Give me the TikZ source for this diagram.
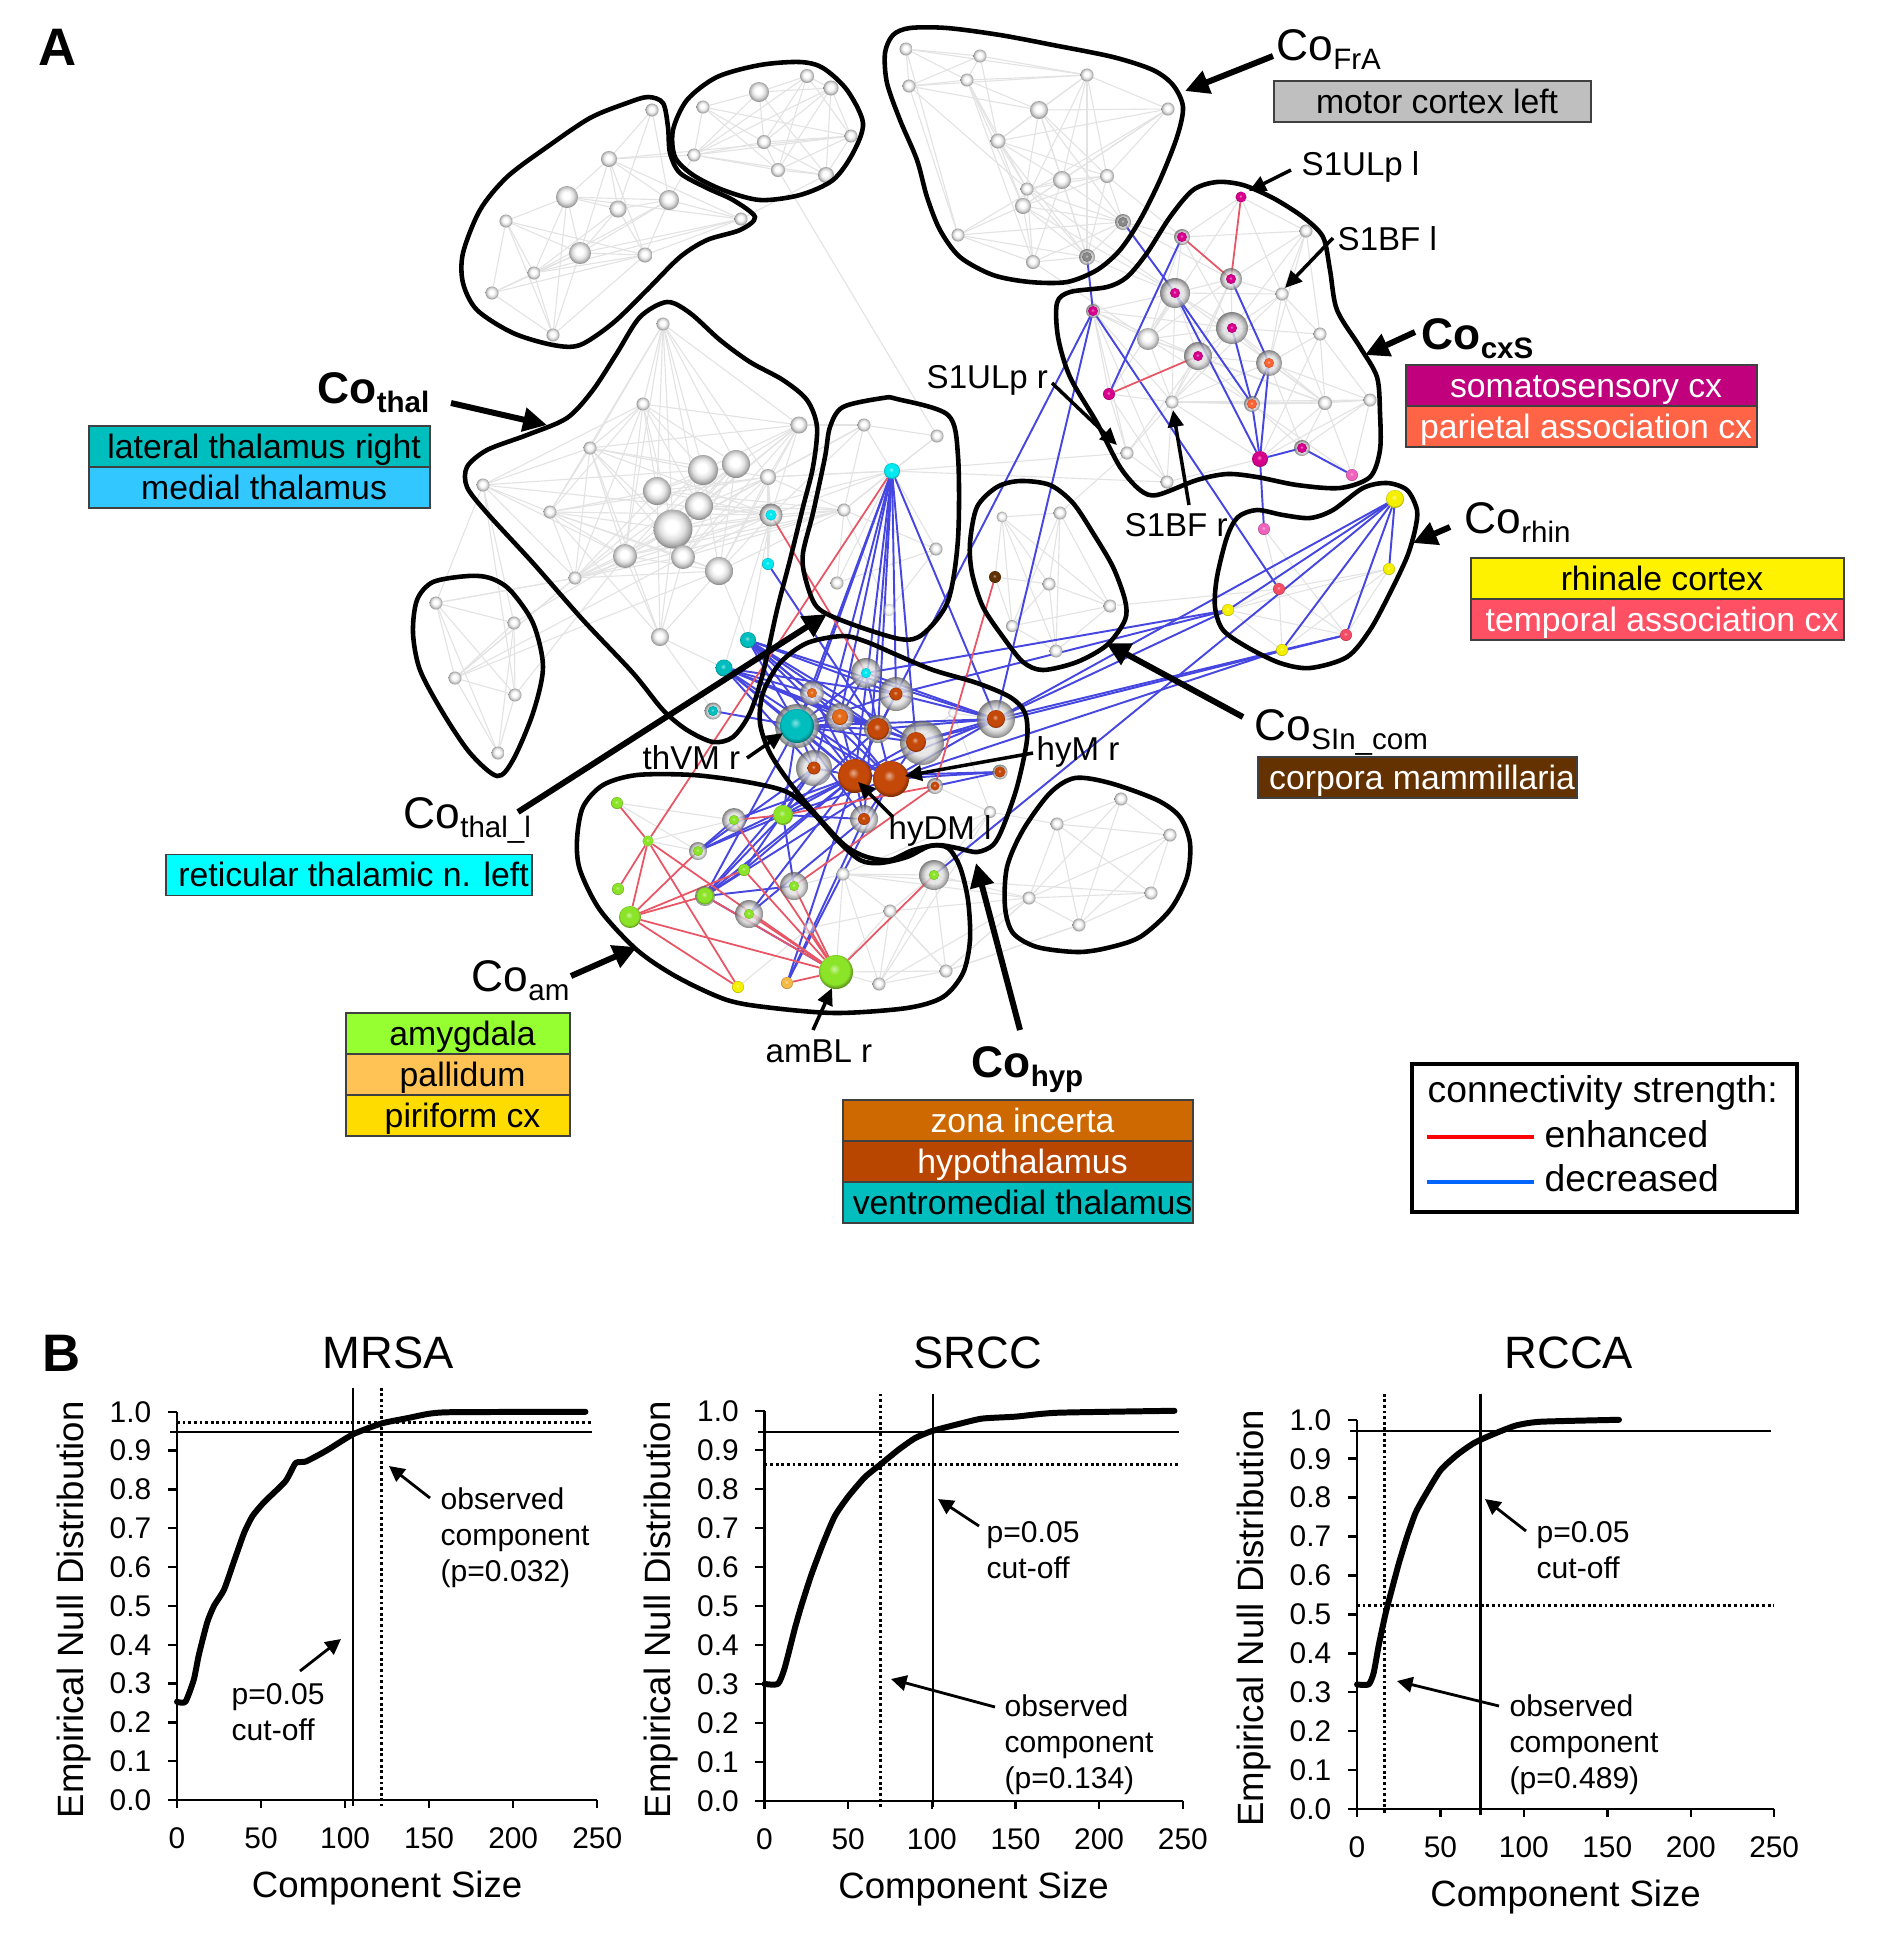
\documentclass[tikz,border=0pt]{standalone}
\usepackage{fontspec}
\setmainfont{Liberation Sans}
\usetikzlibrary{positioning, arrows.meta}
\pgfdeclarelayer{bg}
\pgfsetlayers{bg,main}
\definecolor{tealc}{RGB}{0,190,190}
\definecolor{cyanc}{RGB}{0,232,240}
\definecolor{hypc}{RGB}{196,72,8}
\definecolor{zonac}{RGB}{226,106,24}
\definecolor{magc}{RGB}{214,0,140}
\definecolor{parc}{RGB}{250,98,50}
\definecolor{amc}{RGB}{140,228,40}
\definecolor{yelc}{RGB}{245,240,0}
\definecolor{palc}{RGB}{245,185,70}
\definecolor{pinkc}{RGB}{240,100,190}
\definecolor{redc}{RGB}{245,75,100}
\definecolor{brownc}{RGB}{95,50,5}
\definecolor{slatec}{RGB}{135,135,135}
\definecolor{decc}{RGB}{70,70,225}
\definecolor{enhc}{RGB}{232,85,100}
\definecolor{legdecc}{RGB}{0,100,255}
\definecolor{reticc}{RGB}{0,255,255}
\newcommand{\beadshade}[2]{\pgfdeclareradialshading{#1}{\pgfpoint{-3bp}{5bp}}{color(0bp)=(#2!45!white); color(8bp)=(#2); color(21bp)=(#2); color(26bp)=(#2!65!black); color(50bp)=(#2!65!black)}}
\beadshade{tealshade}{tealc}
\beadshade{cyanshade}{cyanc}
\beadshade{hypshade}{hypc}
\beadshade{zonashade}{zonac}
\beadshade{magshade}{magc}
\beadshade{parshade}{parc}
\beadshade{amshade}{amc}
\beadshade{yelshade}{yelc}
\beadshade{palshade}{palc}
\beadshade{pinkshade}{pinkc}
\beadshade{redshade}{redc}
\beadshade{brownshade}{brownc}
\beadshade{slateshade}{slatec}
\pgfdeclareradialshading{greyshade}{\pgfpoint{-2bp}{4bp}}{color(0bp)=(white); color(8bp)=(white); color(16bp)=(black!12); color(22bp)=(black!30); color(27bp)=(black!50); color(50bp)=(black!50)}
\pgfdeclareradialshading{haloshade}{\pgfpoint{0bp}{0bp}}{color(0bp)=(black!10); color(14bp)=(black!12); color(20bp)=(black!35); color(25bp)=(black!62); color(50bp)=(black!62)}
\newcommand{\cosub}[1]{\raisebox{-2.8pt}{\fontsize{8.4}{10}\selectfont #1}}
\begin{document}
\begin{tikzpicture}[x=0.01cm, y=-0.01cm,
	sized/.style={circle, inner sep=0pt, outer sep=0pt, shade, minimum size=#1*0.1mm},
	bead/.style={sized=#1, shading=greyshade}, halo/.style={sized=#1, shading=haloshade, opacity=0.8},
	tealb/.style={sized=#1, shading=tealshade}, cyanb/.style={sized=#1, shading=cyanshade},
	hypb/.style={sized=#1, shading=hypshade}, zonab/.style={sized=#1, shading=zonashade},
	magb/.style={sized=#1, shading=magshade}, parb/.style={sized=#1, shading=parshade},
	amb/.style={sized=#1, shading=amshade}, yelb/.style={sized=#1, shading=yelshade},
	palb/.style={sized=#1, shading=palshade}, pinkb/.style={sized=#1, shading=pinkshade},
	redb/.style={sized=#1, shading=redshade}, brownb/.style={sized=#1, shading=brownshade},
	slateb/.style={sized=#1, shading=slateshade},
	nrm/.style={draw=black!11, line width=0.32pt}, dec/.style={draw=decc, line width=0.55pt}, enh/.style={draw=enhc, line width=0.5pt},
	hull/.style={draw, line width=1.3pt},
	bigarr/.style={draw, line width=1.7pt, -{Triangle[length=6.8pt, width=6.6pt]}},
	smallarr/.style={draw, line width=1pt, -{Triangle[length=4.8pt, width=4.4pt]}},
	plotarr/.style={draw, line width=0.8pt, -{Triangle[length=4.4pt, width=4.4pt]}},
	colab/.style={anchor=base west, inner sep=0pt, font=\fontsize{12.6}{14}\selectfont},
	coboldlab/.style={colab, font=\fontsize{12.6}{14}\selectfont\bfseries},
	tag/.style={anchor=base west, inner sep=0pt, font=\fontsize{9.4}{11}\selectfont},
	lbox/.style={draw=black!75, line width=0.5pt, inner sep=0pt, outer sep=0pt, minimum height=41*0.1mm, text height=8pt, text depth=1.26pt, execute at begin node={\hspace*{2.6pt}}, font=\fontsize{9.6}{11}\selectfont},
	annot/.style={anchor=north west, align=left, inner sep=0pt, font=\fontsize{8.55}{10.2}\selectfont},
	tick/.style={inner sep=0pt, font=\fontsize{8.5}{10}\selectfont},
	axtitle/.style={inner sep=0pt, font=\fontsize{10.4}{12}\selectfont},
	legtext/.style={anchor=base west, inner sep=0pt, font=\fontsize{10.6}{12}\selectfont},
	panel/.style={inner sep=0pt, font=\fontsize{15}{17}\selectfont\bfseries},
	plottitle/.style={inner sep=0pt, font=\fontsize{12.9}{15}\selectfont},
	curve/.style={line width=1.7pt, line join=round, line cap=round},
	cut/.style={line width=0.7pt}, obs/.style={line width=0.8pt, dash pattern=on 0.8pt off 0.8pt}]
	\useasboundingbox (0,0) rectangle (1890,1944);

	% upper left
	\node [bead=13] (a1) at (652,110) {};
	\node [bead=16] (a2) at (609,159) {};
	\node [bead=22] (a3) at (567,197) {};
	\node [bead=17] (a4) at (618,209) {};
	\node [bead=20] (a5) at (669,200) {};
	\node [bead=13] (a6) at (506,221) {};
	\node [bead=13] (a7) at (741,219) {};
	\node [bead=22] (a8) at (580,253) {};
	\node [bead=15] (a9) at (645,255) {};
	\node [bead=13] (a10) at (534,273) {};
	\node [bead=13] (a11) at (492,293) {};
	\node [bead=13] (a12) at (553,335) {};
	\node [bead=13] (b1) at (703,107) {};
	\node [bead=20] (b2) at (759,92) {};
	\node [bead=14] (b3) at (807,76) {};
	\node [bead=15] (b4) at (831,88) {};
	\node [bead=13] (b5) at (851,136) {};
	\node [bead=14] (b6) at (764,142) {};
	\node [bead=13] (b7) at (694,155) {};
	\node [bead=14] (b8) at (778,170) {};
	\node [bead=16] (b9) at (826,175) {};

	% thalamus
	\node [bead=13] (c1) at (663,324) {};
	\node [bead=13] (c2) at (643,404) {};
	\node [bead=17] (c3) at (799,425) {};
	\node [bead=13] (c4) at (590,448) {};
	\node [bead=13] (c5) at (483,485) {};
	\node [bead=30] (c6) at (703,470) {};
	\node [bead=28] (c7) at (736,464) {};
	\node [bead=16] (c8) at (768,477) {};
	\node [bead=28] (c9) at (657,491) {};
	\node [bead=28] (c10) at (699,506) {};
	\node [bead=39] (c11) at (673,529) {};
	\node [bead=13] (c12) at (550,512) {};
	\node [halo=23] (c13o) at (771,515) {};
	\node [cyanb=11] (c13) at (c13o) {};
	\node [cyanb=12] (c14) at (768,564) {};
	\node [bead=24] (c15) at (625,556) {};
	\node [bead=24] (c16) at (683,557) {};
	\node [bead=28] (c17) at (719,571) {};
	\node [bead=13] (c18) at (575,578) {};
	\node [bead=18] (c19) at (660,637) {};
	\node [tealb=16] (th1) at (748,640) {};
	\node [tealb=17] (th2) at (724,668) {};
	\node [halo=17] (th3o) at (713,711) {};
	\node [tealb=10] (th3) at (th3o) {};
	\node [bead=13] (d1) at (436,603) {};
	\node [bead=13] (d2) at (514,623) {};
	\node [bead=13] (d3) at (455,678) {};
	\node [bead=13] (d4) at (515,695) {};
	\node [bead=13] (d5) at (498,753) {};
	\node [bead=13] (e1) at (864,425) {};
	\node [bead=13] (e2) at (937,436) {};
	\node [cyanb=16] (e3) at (892,471) {};
	\node [bead=13] (e4) at (844,510) {};
	\node [bead=13] (e5) at (936,549) {};
	\node [bead=13] (e6) at (837,583) {};
	\node [bead=12, opacity=0.5] (e7) at (889,610) {};

	% hypothalamus
	\node [halo=30] (h1o) at (866,673) {};
	\node [cyanb=10] (h1) at (h1o) {};
	\node [halo=34] (h2o) at (896,694) {};
	\node [hypb=13] (h2) at (h2o) {};
	\node [halo=24] (h3o) at (812,693) {};
	\node [zonab=10] (h3) at (h3o) {};
	\node [halo=44] (h4o) at (797,726) {};
	\node [tealb=34] (h4) at (h4o) {};
	\node [halo=28] (h5o) at (840,717) {};
	\node [zonab=16] (h5) at (h5o) {};
	\node [halo=28] (h6o) at (878,729) {};
	\node [hypb=22] (h6) at (h6o) {};
	\node [halo=44] (h7o) at (922,743) {};
	\node [hypb=20] (h7) at (916,742) {};
	\node [halo=38] (h8o) at (996,719) {};
	\node [hypb=18] (h8) at (h8o) {};
	\node [halo=36] (h9o) at (814,768) {};
	\node [hypb=13] (h9) at (h9o) {};
	\node [hypb=34] (h10) at (855,776) {};
	\node [hypb=36] (h11) at (891,779) {};
	\node [halo=15] (h12o) at (1000,772) {};
	\node [hypb=11] (h12) at (h12o) {};
	\node [halo=16] (h13o) at (935,786) {};
	\node [hypb=9] (h13) at (h13o) {};
	\node [halo=28] (h14o) at (864,819) {};
	\node [hypb=12] (h14) at (h14o) {};
	\node [bead=12] (h15) at (990,812) {};
	\node [bead=10, opacity=0.5] (h16) at (953,713) {};

	% amygdala
	\node [amb=12] (m1) at (617,803) {};
	\node [amb=11] (m2) at (648,841) {};
	\node [halo=24] (m3o) at (734,820) {};
	\node [amb=10] (m3) at (m3o) {};
	\node [amb=20] (m4) at (783,815) {};
	\node [halo=18] (m5o) at (698,851) {};
	\node [amb=10] (m5) at (m5o) {};
	\node [amb=12] (m6) at (744,870) {};
	\node [amb=12] (m7) at (618,889) {};
	\node [halo=20] (m8o) at (705,896) {};
	\node [amb=17] (m8) at (m8o) {};
	\node [halo=28] (m9o) at (794,886) {};
	\node [amb=10] (m9) at (m9o) {};
	\node [amb=22] (m10) at (630,917) {};
	\node [halo=28] (m11o) at (749,914) {};
	\node [amb=10] (m11) at (m11o) {};
	\node [halo=30] (m12o) at (934,875) {};
	\node [amb=10] (m12) at (m12o) {};
	\node [bead=13] (m13) at (843,874) {};
	\node [bead=13] (m14) at (890,911) {};
	\node [bead=12, opacity=0.5] (m15) at (809,928) {};
	\node [amb=34] (m16) at (836,972) {};
	\node [yelb=12] (m17) at (738,987) {};
	\node [palb=12] (m18) at (787,983) {};
	\node [bead=13] (m19) at (879,984) {};
	\node [bead=13] (m20) at (946,971) {};

	% septal, rhinal, lower right
	\node [bead=11] (s1) at (1002,517) {};
	\node [bead=13] (s2) at (1060,513) {};
	\node [brownb=12] (s3) at (995,577) {};
	\node [bead=13] (s4) at (1049,584) {};
	\node [bead=13] (s5) at (1110,606) {};
	\node [bead=12] (s6) at (1012,626) {};
	\node [bead=13] (s7) at (1056,651) {};
	\node [yelb=18] (r1) at (1395,499) {};
	\node [yelb=12] (r2) at (1389,569) {};
	\node [redb=12] (r3) at (1279,589) {};
	\node [yelb=12] (r4) at (1228,610) {};
	\node [redb=12] (r5) at (1346,635) {};
	\node [yelb=12] (r6) at (1282,650) {};
	\node [pinkb=12] (r7) at (1264,529) {};
	\node [bead=13] (t1) at (1121,799) {};
	\node [bead=13] (t2) at (1057,824) {};
	\node [bead=13] (t3) at (1170,835) {};
	\node [bead=13] (t4) at (1029,898) {};
	\node [bead=13] (t5) at (1151,893) {};
	\node [bead=13] (t6) at (1079,925) {};

	% frontal
	\node [bead=13] (f1) at (906,49) {};
	\node [bead=13] (f2) at (980,56) {};
	\node [bead=13] (f3) at (909,86) {};
	\node [bead=13] (f4) at (967,80) {};
	\node [bead=13] (f5) at (1087,75) {};
	\node [bead=13] (f6) at (1168,109) {};
	\node [bead=18] (f7) at (1039,110) {};
	\node [bead=15] (f8) at (998,141) {};
	\node [bead=18] (f9) at (1062,180) {};
	\node [bead=14] (f10) at (1107,176) {};
	\node [bead=13] (f11) at (1027,189) {};
	\node [bead=16] (f12) at (1023,206) {};
	\node [halo=16] (f13o) at (1123,222) {};
	\node [slateb=10] (f13) at (f13o) {};
	\node [bead=13] (f14) at (958,235) {};
	\node [bead=14] (f15) at (1033,262) {};
	\node [halo=16] (f16o) at (1087,257) {};
	\node [slateb=10] (f16) at (f16o) {};

	% somatosensory
	\node [magb=11] (x1) at (1241,197) {};
	\node [halo=16] (x2o) at (1182,237) {};
	\node [magb=10] (x2) at (x2o) {};
	\node [bead=13] (x3) at (1306,231) {};
	\node [halo=22] (x4o) at (1231,279) {};
	\node [magb=10] (x4) at (x4o) {};
	\node [halo=30] (x5o) at (1175,293) {};
	\node [magb=10] (x5) at (x5o) {};
	\node [bead=13] (x6) at (1282,294) {};
	\node [halo=14] (x7o) at (1093,311) {};
	\node [magb=10] (x7) at (x7o) {};
	\node [bead=22] (x8) at (1148,339) {};
	\node [halo=32] (x9o) at (1232,328) {};
	\node [magb=10] (x9) at (x9o) {};
	\node [bead=13] (x10) at (1320,334) {};
	\node [halo=28] (x11o) at (1198,356) {};
	\node [magb=10] (x11) at (x11o) {};
	\node [halo=26] (x12o) at (1269,363) {};
	\node [parb=10] (x12) at (x12o) {};
	\node [magb=12] (x13) at (1109,394) {};
	\node [bead=13] (x14) at (1172,402) {};
	\node [halo=16] (x15o) at (1252,404) {};
	\node [parb=10] (x15) at (x15o) {};
	\node [bead=14] (x16) at (1325,403) {};
	\node [bead=13] (x17) at (1370,400) {};
	\node [bead=13] (x18) at (1127,453) {};
	\node [magb=16] (x19) at (1260,459) {};
	\node [halo=16] (x20o) at (1302,448) {};
	\node [magb=10] (x20) at (x20o) {};
	\node [pinkb=12] (x21) at (1352,475) {};
	\node [bead=13] (x22) at (1167,482) {};

	\begin{pgfonlayer}{bg}
		\path[nrm] (a1) edge (a2) edge (a4) edge (a5);
		\path[nrm] (a2) edge (a3) edge (a4) edge (a5) edge (a8) edge (a9) edge (a7) edge (b7) edge (b5);
		\path[nrm] (a3) edge (a4) edge (a5) edge (a6) edge (a8) edge (a10) edge (a12) edge (a7);
		\path[nrm] (a4) edge (a5) edge (a8) edge (a9) edge (a10);
		\path[nrm] (a5) edge (a7) edge (a9) edge (a8) edge (a10) edge (b7);
		\path[nrm] (a6) edge (a8) edge (a10) edge (a11) edge (a12) edge (a9);
		\path[nrm] (a7) edge (a8) edge (a9) edge (a10) edge (b9);
		\path[nrm] (a8) edge (a9) edge (a10) edge (a11) edge (a12);
		\path[nrm] (a9) edge (a10) edge (a11) edge (a12);
		\path[nrm] (a10) edge (a11) edge (a12);
		\path[nrm] (a11) edge (a12);
		\path[nrm] (b1) edge (b2) edge (b7) edge (b5) edge (b6) edge (b8);
		\path[nrm] (b2) edge (b3) edge (b4) edge (b6) edge (b7) edge (b9);
		\path[nrm] (b3) edge (b4) edge (b5) edge (b6) edge (b8) edge (b7);
		\path[nrm] (b4) edge (b5) edge (b6) edge (b8) edge (b9) edge (b7);
		\path[nrm] (b5) edge (b6) edge (b7) edge (b8) edge (b9);
		\path[nrm] (b6) edge (b7) edge (b8) edge (b9);
		\path[nrm] (b7) edge (b8) edge (b9);
		\path[nrm] (b8) edge (b9) edge (e2);
		\path[nrm] (c1) edge (c2) edge (c3) edge (c4) edge (c6) edge (c7) edge (c9) edge (c10) edge (c11) edge (c15) edge (c8) edge (c12);
		\path[nrm] (c2) edge (c3) edge (c4) edge (c5) edge (c9) edge (c11) edge (c12) edge (c15) edge (c18) edge (c6) edge (c10) edge (c7);
		\path[nrm] (c3) edge (c6) edge (c7) edge (c8) edge (c10) edge (c11) edge (c13) edge (c16) edge (c17) edge (c4);
		\path[nrm] (c4) edge (c5) edge (c6) edge (c8) edge (c11) edge (c12) edge (c15) edge (c16) edge (c18) edge (c19) edge (c13);
		\path[nrm] (c5) edge (c6) edge (c12) edge (c13) edge (c15) edge (c18) edge (d1) edge (d4);
		\path[nrm] (c12) edge (c9) edge (c11) edge (c13) edge (c15) edge (c16) edge (c17) edge (c18) edge (c19) edge (c8);
		\path[nrm] (c18) edge (c9) edge (c11) edge (c13) edge (c15) edge (c16) edge (c17) edge (c6) edge (c7) edge (d3) edge (d1) edge (e4);
		\path[nrm] (c19) edge (c11) edge (c15) edge (c16) edge (c17) edge (th2) edge (c9) edge (th3);
		\path[nrm] (c15) edge (c6) edge (c7) edge (c8) edge (c13) edge (e4) edge (c17);
		\path[nrm] (c16) edge (c6) edge (c7) edge (c8) edge (c13) edge (e4) edge (c17);
		\path[nrm] (c17) edge (c6) edge (c7) edge (c13) edge (c8) edge (e4) edge (th1);
		\path[nrm] (c9) edge (c6) edge (c7) edge (c13) edge (c8) edge (e4);
		\path[nrm] (c10) edge (c8) edge (c13) edge (e4) edge (c7);
		\path[nrm] (c11) edge (c7) edge (c13) edge (c8) edge (e4) edge (c3) edge (e3) edge (e1);
		\path[nrm] (c13) edge (e4) edge (e1) edge (c8) edge (c14) edge (th1) edge (th2) edge (e3);
		\path[nrm] (c8) edge (e3) edge (e4) edge (c14) edge (e1);
		\path[nrm] (d1) edge (d2) edge (d3) edge (d4) edge (d5) edge (c18);
		\path[nrm] (d2) edge (d3) edge (d4) edge (d5) edge (c5) edge (c11);
		\path[nrm] (d3) edge (d4) edge (d5) edge (c18) edge (c16) edge (c17);
		\path[nrm] (d4) edge (d5) edge (c15);
		\path[nrm] (e1) edge (e3) edge (e4) edge (e2) edge (c3) edge (c8);
		\path[nrm] (e2) edge (e3) edge (e4);
		\path[nrm] (e3) edge (e4) edge (e5) edge (e6) edge (c8);
		\path[nrm] (e4) edge (e5) edge (e6) edge (e7);
		\path[nrm] (e5) edge (e6) edge (e7);
		\path[nrm] (m13) edge (m9) edge (m12) edge (m14) edge (m19);
		\path[nrm] (m12) edge (m19) edge (m20) edge (m14);
		\path[nrm] (m14) edge (m19) edge (m20) edge (t4) edge (m15);
		\path[nrm] (m19) edge (t4) edge (m20) edge (h15);
		\path[nrm] (m20) edge (t4) edge (t6) edge (m14);
		\path[nrm] (h15) edge (h13) edge (h16) edge (m12) edge (m13) edge (t2);
		\path[nrm] (h16) edge (h8) edge (h7);
		\path[nrm] (m1) edge (m3) edge (m5);
		\path[nrm] (m2) edge (m3) edge (m5);
		\path[nrm] (m17) edge (m15);
		\path[nrm] (m16) edge (m13) edge (m14) edge (m19) edge (m20);
		\path[nrm] (t1) edge (t2) edge (t3) edge (t4) edge (t6);
		\path[nrm] (t2) edge (t3) edge (t4) edge (t5) edge (t6);
		\path[nrm] (t3) edge (t4) edge (t5) edge (t6);
		\path[nrm] (t4) edge (t5) edge (t6) edge (m12) edge (m13) edge (m20);
		\path[nrm] (t5) edge (t6) edge (m13);
		\path[nrm] (t6) edge (m20);
		\path[nrm] (s1) edge (s2) edge (s3) edge (s4) edge (s5) edge (s6) edge (s7);
		\path[nrm] (s2) edge (s4) edge (s5) edge (s7) edge (s6);
		\path[nrm] (s3) edge (s4) edge (s6);
		\path[nrm] (s4) edge (s5) edge (s6) edge (s7);
		\path[nrm] (s5) edge (s6) edge (s7) edge (r3);
		\path[nrm] (s6) edge (s7);
		\path[nrm] (f1) edge (f2) edge (f3) edge (f4) edge (f5) edge (f14);
		\path[nrm] (f2) edge (f3) edge (f4) edge (f5) edge (f8);
		\path[nrm] (f3) edge (f4) edge (f5) edge (f7) edge (f14) edge (f11);
		\path[nrm] (f4) edge (f5) edge (f7) edge (f8) edge (f11) edge (f12) edge (f15);
		\path[nrm] (f5) edge (f6) edge (f7) edge (f8) edge (f9) edge (f10) edge (f12) edge (f16);
		\path[nrm] (f6) edge (f7) edge (f8) edge (f9) edge (f10) edge (f12) edge (f14);
		\path[nrm] (f7) edge (f8) edge (f9) edge (f10) edge (f12) edge (f13) edge (f16);
		\path[nrm] (f8) edge (f9) edge (f10) edge (f11) edge (f12) edge (f16);
		\path[nrm] (f9) edge (f10) edge (f11) edge (f12) edge (f13) edge (f15) edge (f16);
		\path[nrm] (f10) edge (f11) edge (f12) edge (f13) edge (f16) edge (x2);
		\path[nrm] (f11) edge (f12) edge (f13) edge (f15) edge (f16) edge (x5);
		\path[nrm] (f12) edge (f13) edge (f14) edge (f15) edge (f16) edge (x5);
		\path[nrm] (f13) edge (f14) edge (f15) edge (f16) edge (x2) edge (x4) edge (x5);
		\path[nrm] (f14) edge (f15) edge (f16);
		\path[nrm] (f15) edge (f16) edge (x8);
		\path[nrm] (f16) edge (x7) edge (x5);
		\path[nrm] (x1) edge (x2) edge (x3) edge (x4) edge (x6) edge (x8);
		\path[nrm] (x2) edge (x3) edge (x4) edge (x5) edge (x8) edge (x9);
		\path[nrm] (x3) edge (x4) edge (x6) edge (x9) edge (x10) edge (x12);
		\path[nrm] (x4) edge (x6) edge (x5) edge (x8) edge (x9) edge (x11) edge (x14);
		\path[nrm] (x5) edge (x6) edge (x7) edge (x8) edge (x9) edge (x11) edge (x13) edge (x14) edge (x16);
		\path[nrm] (x6) edge (x9) edge (x10) edge (x12) edge (x14) edge (x16);
		\path[nrm] (x7) edge (x8) edge (x9) edge (x11) edge (x13) edge (x18) edge (x14) edge (x22);
		\path[nrm] (x8) edge (x9) edge (x11) edge (x14) edge (x15) edge (x16);
		\path[nrm] (x9) edge (x10) edge (x12) edge (x16) edge (x11) edge (x14);
		\path[nrm] (x10) edge (x12) edge (x16) edge (x17) edge (x19);
		\path[nrm] (x11) edge (x12) edge (x14) edge (x15) edge (x16) edge (x18);
		\path[nrm] (x12) edge (x16) edge (x17) edge (x14) edge (x20);
		\path[nrm] (x13) edge (x14) edge (x18) edge (x22);
		\path[nrm] (x14) edge (x15) edge (x16) edge (x17) edge (x18) edge (x22) edge (x19);
		\path[nrm] (x15) edge (x16) edge (x17) edge (x20) edge (x21);
		\path[nrm] (x16) edge (x17) edge (x19) edge (x20) edge (x21);
		\path[nrm] (x17) edge (x19) edge (x20) edge (x21);
		\path[nrm] (x18) edge (x22) edge (e3) edge (s2);
		\path[nrm] (x19) edge (x22);
		\path[nrm] (x22) edge (e3);
		\path[nrm] (r2) edge (r3) edge (r4) edge (r5) edge (r6);
		\path[nrm] (r3) edge (r4) edge (r5) edge (r6) edge (r7);
		\path[nrm] (r4) edge (r5) edge (r6);
		\path[nrm] (r7) edge (r5);

		\path[dec] (x7) edge (f16) edge (r3) edge (h8) edge (h6);
		\path[dec] (x5) edge (f13) edge (x15) edge (x19);
		\path[dec] (x2) edge (x13);
		\path[dec] (x4) edge (x12);
		\path[dec] (x9) edge (x15);
		\path[dec] (x12) edge (x15) edge (x19);
		\path[dec] (x15) edge (x19);
		\path[dec] (x19) edge (x20) edge (r7);
		\path[dec] (x20) edge (x21);
		\path[dec] (r1) edge (r2) edge (r4) edge (r5) edge (r6) edge (h8) edge (m12);
		\path[dec] (r5) edge (r6) edge (h7);
		\path[dec] (r4) edge (h1) edge (h2) edge (h8);
		\path[dec] (r6) edge (h8) edge (h11);
		\path[dec] (e3) edge (h3) edge (h4) edge (h5) edge (h9) edge (h6) edge (h2) edge (h14) edge (h10) edge (h8) edge (h7);
		\path[dec] (c14) edge (h6);
		\path[dec] (th1) edge (h3) edge (h4) edge (h5) edge (h6) edge (h2) edge (h7) edge (h8) edge (h10) edge (h11);
		\path[dec] (th2) edge (h3) edge (h4) edge (h5) edge (h6) edge (h9) edge (h2) edge (h7) edge (h10) edge (h11);
		\path[dec] (th3) edge (h4);
		\path[dec] (h4) edge (h1) edge (h3) edge (h5) edge (h6) edge (h7) edge (h8) edge (h10) edge (h11) edge (h9) edge (h14) edge (h2);
		\path[dec] (h5) edge (h6) edge (h10) edge (h11);
		\path[dec] (h6) edge (h10) edge (h11) edge (h7) edge (h8);
		\path[dec] (h3) edge (h6) edge (h10);
		\path[dec] (h2) edge (h6) edge (h8) edge (h10);
		\path[dec] (h7) edge (h10) edge (h11) edge (h8);
		\path[dec] (h8) edge (h11) edge (h10);
		\path[dec] (h9) edge (h10);
		\path[dec] (h14) edge (h10) edge (h11);
		\path[dec] (h1) edge (h6) edge (h8) edge (h5);
		\path[dec] (h12) edge (h10) edge (h11) edge (h13);
		\path[dec] (m4) edge (h4) edge (h9) edge (h10) edge (h11) edge (h14) edge (h6) edge (m5) edge (m8) edge (m9);
		\path[dec] (m3) edge (h10) edge (m5);
		\path[dec] (m5) edge (h10) edge (h9);
		\path[dec] (m6) edge (h10) edge (h9) edge (m8);
		\path[dec] (m8) edge (h10) edge (h9) edge (h4) edge (h11) edge (m9) edge (m16);
		\path[dec] (m11) edge (h14) edge (h10);
		\path[dec] (m18) edge (h14) edge (h10) edge (h11);

		\path[enh] (x1) edge (x4);
		\path[enh] (x2) edge (x4);
		\path[enh] (x11) edge (x13);
		\path[enh] (e3) edge (m2);
		\path[enh] (c13) edge (h1);
		\path[enh] (s3) edge (h13);
		\path[enh] (m1) edge (m2);
		\path[enh] (m2) edge (m7) edge (m10) edge (m16) edge (m17);
		\path[enh] (m10) edge (m5) edge (m8) edge (m6) edge (m16) edge (m17);
		\path[enh] (m3) edge (m4) edge (m16);
		\path[enh] (m8) edge (m16);
		\path[enh] (m6) edge (m16);
		\path[enh] (m9) edge (m16) edge (h13);
		\path[enh] (m11) edge (m16);
		\path[enh] (m15) edge (m16);
		\path[enh] (m18) edge (m16);
		\path[enh] (m12) edge (m16);
		\path[enh] (m4) edge (h13);
	\end{pgfonlayer}

	\draw[hull] plot[smooth cycle] coordinates {(648,97) (663,103) (668,127) (670,153) (680,173) (707,188) (733,200) (755,217) (740,230) (707,240) (680,257) (647,290) (613,323) (580,345) (553,345) (513,333) (477,310) (463,283) (463,253) (480,210) (507,177) (547,147) (590,118) (627,103)};
	\draw[hull] plot[smooth cycle] coordinates {(673,130) (687,100) (717,77) (760,65) (800,62) (823,68) (847,90) (863,123) (853,153) (833,180) (800,195) (760,200) (723,190) (693,175) (675,157)};
	\draw[hull] plot[smooth cycle] coordinates {(667,302) (690,313) (720,340) (750,362) (783,380) (807,400) (817,427) (813,467) (803,507) (790,560) (777,610) (763,673) (750,713) (733,737) (713,742) (687,730) (663,710) (633,673) (583,620) (533,563) (487,513) (467,487) (467,467) (487,450) (527,435) (567,418) (593,390) (617,353) (640,317)};
	\draw[hull] plot[smooth cycle] coordinates {(468,576) (433,582) (417,600) (413,633) (420,670) (443,713) (470,753) (497,776) (513,760) (533,713) (543,667) (533,623) (510,590) (490,578)};
	\draw[hull] plot[smooth cycle] coordinates {(883,398) (897,399) (948,415) (958,456) (958,539) (948,601) (923,634) (900,639) (846,622) (817,607) (805,577) (803,553) (813,513) (825,457) (830,427) (843,407)};
	\draw[hull] plot[smooth cycle] coordinates {(843,636) (867,642) (897,655) (933,670) (977,683) (1010,697) (1025,713) (1027,740) (1017,787) (1003,827) (993,845) (977,852) (957,848) (937,845) (913,850) (890,860) (867,857) (847,847) (827,827) (793,787) (770,753) (760,723) (763,693) (780,663) (807,643)};
	\draw[hull] plot[smooth cycle] coordinates {(637,775) (693,775) (747,782) (787,792) (813,813) (837,840) (860,860) (880,863) (907,857) (930,846) (948,848) (960,867) (968,900) (970,940) (963,973) (943,997) (907,1008) (837,1013) (773,1008) (727,1000) (677,977) (637,950) (600,910) (580,870) (577,840) (583,807) (603,785)};
	\draw[hull] plot[smooth cycle] coordinates {(1020,481) (1050,485) (1073,503) (1093,533) (1113,567) (1125,600) (1125,620) (1107,645) (1077,662) (1043,670) (1023,662) (1003,637) (983,607) (972,573) (970,543) (977,507) (997,487)};
	\draw[hull] plot[smooth cycle] coordinates {(1387,483) (1407,490) (1417,510) (1415,530) (1407,557) (1390,593) (1370,630) (1347,657) (1310,668) (1280,663) (1247,647) (1223,630) (1215,607) (1217,577) (1227,537) (1238,517) (1257,510) (1283,515) (1310,518) (1333,510) (1363,488)};
	\draw[hull] plot[smooth cycle] coordinates {(1075,778) (1110,783) (1157,800) (1180,817) (1190,843) (1187,877) (1170,910) (1140,937) (1107,948) (1077,952) (1037,947) (1013,933) (1005,907) (1007,867) (1023,830) (1050,793)};
	\draw[hull] plot[smooth cycle] coordinates {(910,28) (947,28) (1000,35) (1053,45) (1113,57) (1153,70) (1173,85) (1183,107) (1177,137) (1160,180) (1140,220) (1120,250) (1097,270) (1067,282) (1030,282) (993,275) (960,257) (940,230) (927,197) (917,160) (900,120) (887,83) (885,53) (893,35)};
	\draw[hull] plot[smooth cycle] coordinates {(1217,182) (1243,185) (1273,198) (1303,217) (1323,237) (1330,270) (1337,310) (1360,347) (1377,377) (1380,413) (1380,450) (1370,477) (1340,488) (1297,485) (1257,477) (1227,474) (1197,480) (1157,495) (1140,490) (1120,467) (1097,423) (1070,377) (1058,337) (1057,303) (1070,292) (1107,287) (1127,277) (1147,253) (1170,217) (1193,190)};

	\node [colab] (CoFrA) at (1276,60) {Co\cosub{FrA}};
	\node [coboldlab] (Cothal) at (317,403) {Co\cosub{thal}};
	\node [coboldlab] (CoCxS) at (1421,349) {Co\cosub{cxS}};
	\node [colab] (Corhin) at (1464,533) {Co\cosub{rhin}};
	\node [colab] (CoSIn) at (1254,740) {Co\cosub{SIn\_com}};
	\node [colab] (Cothall) at (403,828) {Co\cosub{thal\_l}};
	\node [colab] (Coam) at (471,991) {Co\cosub{am}};
	\node [coboldlab] (Cohyp) at (971,1077) {Co\cosub{hyp}};
	\node [tag] (S1ULpl) at (1301,175) {S1ULp l};
	\node [tag] (S1BFl) at (1337,250) {S1BF l};
	\node [tag] (S1ULpr) at (926,388) {S1ULp r};
	\node [tag] (S1BFr) at (1124,536) {S1BF r};
	\node [tag] (thVMr) at (642,769) {thVM r};
	\node [tag] (hyMr) at (1036,760) {hyM r};
	\node [tag] (hyDMl) at (888,839) {hyDM l};
	\node [tag] (amBLr) at (765,1062) {amBL r};

	\coordinate (FrAend) at (1273,56);   \coordinate (FrAtip) at (1185,91);
	\coordinate (thalend) at (451,403);  \coordinate (thaltip) at (547,425);
	\coordinate (cxSend) at (1415,332);  \coordinate (cxStip) at (1365,355);
	\coordinate (rhinend) at (1450,527); \coordinate (rhintip) at (1413,543);
	\coordinate (SInend) at (1243,717);  \coordinate (SIntip) at (1106,643);
	\coordinate (lend) at (518,812);     \coordinate (ltip) at (827,614);
	\coordinate (amend) at (571,976);    \coordinate (amtip) at (637,947);
	\coordinate (hypend) at (1020,1030); \coordinate (hyptip) at (976,863);
	\path[bigarr] (FrAend) -- (FrAtip);
	\path[bigarr] (thalend) -- (thaltip);
	\path[bigarr] (cxSend) -- (cxStip);
	\path[bigarr] (rhinend) -- (rhintip);
	\path[bigarr] (SInend) -- (SIntip);
	\path[bigarr] (lend) -- (ltip);
	\path[bigarr] (amend) -- (amtip);
	\path[bigarr] (hypend) -- (hyptip);
	\coordinate (ulltail) at (1291,170); \coordinate (ulltip) at (1249,191);
	\coordinate (bfltail) at (1333,238); \coordinate (bfltip) at (1285,288);
	\coordinate (ulrtail) at (1052,383); \coordinate (ulrtip) at (1117,445);
	\coordinate (bfrtail) at (1189,505); \coordinate (bfrtip) at (1173,410);
	\coordinate (hyMtail) at (1033,753); \coordinate (hyMtip) at (905,776);
	\coordinate (hyDtail) at (893,817);  \coordinate (hyDtip) at (858,782);
	\coordinate (thVtail) at (747,758);  \coordinate (thVtip) at (783,733);
	\coordinate (amBtail) at (813,1030); \coordinate (amBtip) at (832,988);
	\path[smallarr] (ulltail) -- (ulltip);
	\path[smallarr] (bfltail) -- (bfltip);
	\path[smallarr] (ulrtail) -- (ulrtip);
	\path[smallarr] (bfrtail) -- (bfrtip);
	\path[smallarr] (hyMtail) -- (hyMtip);
	\path[smallarr] (hyDtail) -- (hyDtip);
	\path[smallarr] (thVtail) -- (thVtip);
	\path[smallarr] (amBtail) -- (amBtip);

	% colour keys
	\node [lbox, fill=black!25, minimum width=31.7mm] (motor) at (1432.5,101.5) {motor cortex left};
	\node [lbox, fill=tealc, minimum width=34.1mm] (latthal) at (259.5,446.5) {lateral thalamus right};
	\node [lbox, fill={rgb,255:red,50;green,200;blue,255}, minimum width=34.1mm, below=0pt of latthal] (medthal) {medial thalamus};
	\node [lbox, fill=magc!90!black, text=white, minimum width=35.1mm] (somato) at (1581.5,385.5) {somatosensory cx};
	\node [lbox, fill={rgb,255:red,255;green,100;blue,70}, text=white, minimum width=35.1mm, below=0pt of somato] (pariet) {parietal association cx};
	\node [lbox, fill=yellow, minimum width=37.3mm] (rhinale) at (1657.5,578.5) {rhinale cortex};
	\node [lbox, fill={rgb,255:red,255;green,80;blue,100}, text=white, minimum width=37.3mm, below=0pt of rhinale] (tempor) {temporal association cx};
	\node [lbox, fill={rgb,255:red,100;green,50;blue,0}, text=white, minimum width=31.9mm] (corpora) at (1417.5,777.5) {corpora mammillaria};
	\node [lbox, fill=reticc, minimum width=36.6mm] (retic) at (349,875) {reticular thalamic n. left};
	\node [lbox, fill={rgb,255:red,150;green,255;blue,50}, minimum width=22.4mm] (amyg) at (458,1033.5) {amygdala};
	\node [lbox, fill={rgb,255:red,255;green,195;blue,85}, minimum width=22.4mm, below=0pt of amyg] (pallid) {pallidum};
	\node [lbox, fill={rgb,255:red,255;green,220;blue,0}, minimum width=22.4mm, below=0pt of pallid] (pirif) {piriform cx};
	\node [lbox, fill={rgb,255:red,205;green,105;blue,0}, text=white, minimum width=35mm] (zona) at (1018,1120.5) {zona incerta};
	\node [lbox, fill={rgb,255:red,185;green,70;blue,0}, text=white, minimum width=35mm, below=0pt of zona] (hypoth) {hypothalamus};
	\node [lbox, fill=tealc, minimum width=35mm, below=0pt of hypoth] (ventro) {ventromedial thalamus};

	% legend
	\node [draw, line width=1pt, minimum width=38.5mm, minimum height=14.8mm, inner sep=0pt] (legend) at (1604.5,1138) {};
	\node [legtext] (legtitle) at (1427,1102) {connectivity strength:};
	\node [legtext] (legenh) at (1544,1147) {enhanced};
	\node [legtext] (legdec) at (1544,1191) {decreased};
	\coordinate (enhstart) at (1427,1137); \coordinate (enhstop) at (1534,1137);
	\coordinate (decstart) at (1427,1182); \coordinate (decstop) at (1534,1182);
	\draw[red, line width=1pt] (enhstart) -- (enhstop);
	\draw[legdecc, line width=1pt] (decstart) -- (decstop);

	\node [panel] (panelA) at (58,47) {A};
	\node [panel] (panelB) at (62,1353) {B};
	\node [plottitle] (MRSA) at (388,1353) {MRSA};
	\node [plottitle] (SRCC) at (978,1353) {SRCC};
	\node [plottitle] (RCCA) at (1569,1353) {RCCA};

	% the three null distributions
	\foreach \px/\py/\sx/\sy/\tn in {177/1800/0.0168/3.88/a, 764.5/1801/0.01673/3.90/b, 1357/1809/0.01668/3.89/c} {
		\begin{scope}[shift={(\px,\py)}, x=\sx cm, y=\sy cm]
			\draw[line width=0.8pt] (0,1) -- (0,0) -- (250,0);
			\foreach \t/\l in {0/0.0, 1/0.1, 2/0.2, 3/0.3, 4/0.4, 5/0.5, 6/0.6, 7/0.7, 8/0.8, 9/0.9, 10/1.0} {
				\draw[line width=0.7pt] (0,\t/10) -- ++(-0.9mm,0);
				\node [tick, anchor=east] (ty\tn\t) at ([xshift=-2.5mm]0,\t/10) {\l};
			}
			\foreach \t in {0,50,100,150,200,250} {
				\draw[line width=0.7pt] (\t,0) -- ++(0,-0.8mm);
				\node [tick] (tx\tn\t) at ([yshift=-3.8mm]\t,0) {\t};
			}
			\node [axtitle] (xl\tn) at ([yshift=-8.8mm]125,0) {Component Size};
			\node [axtitle, rotate=90] (yl\tn) at ([xshift=-10.3mm]0,0.49) {Empirical Null Distribution};
		\end{scope}
	}

	\begin{scope}[shift={(177,1800)}, x=0.0168cm, y=3.88cm]
		\draw[cut] (104.8,1.062) -- (104.8,-0.015);
		\draw[obs] (121.8,1.062) -- (121.8,-0.015);
		\draw[cut] (-4,0.948) -- (247,0.948);
		\draw[obs] (0,0.973) -- (247,0.973);
		\draw[curve] plot[smooth, tension=0.35] coordinates {(0,0.253) (5,0.253) (10,0.31) (13,0.374) (18,0.458) (22,0.5) (28,0.542) (34,0.616) (40,0.689) (45,0.732) (52,0.768) (64.5,0.821) (70.6,0.868) (76.7,0.872) (88.9,0.9) (104.7,0.942) (121.7,0.97) (137.5,0.984) (150,0.995) (164,0.999) (243,1)};
	\end{scope}
	\node [annot] (obsa) at (440,1487) {observed\\component\\(p=0.032)};
	\node [annot] (cuta) at (231,1683) {p=0.05\\cut-off};
	\coordinate (obsatail) at (430,1498); \coordinate (obsatip) at (389,1466);
	\coordinate (cutatail) at (300,1671); \coordinate (cutatip) at (341,1639);
	\path[plotarr] (obsatail) -- (obsatip);
	\path[plotarr] (cutatail) -- (cutatip);

	\begin{scope}[shift={(764.5,1801)}, x=0.01673cm, y=3.90cm]
		\draw[cut] (100.6,1.044) -- (100.6,-0.015);
		\draw[obs] (69.5,1.044) -- (69.5,-0.015);
		\draw[cut] (-4,0.946) -- (248,0.946);
		\draw[obs] (0,0.863) -- (248,0.863);
		\draw[curve] plot[smooth, tension=0.35] coordinates {(0,0.3) (8,0.3) (12,0.34) (18,0.44) (22,0.5) (28,0.58) (35,0.66) (42,0.73) (50,0.78) (60,0.83) (70,0.865) (80,0.9) (90,0.93) (100,0.948) (115,0.965) (130,0.98) (150,0.985) (175,0.995) (245,1)};
	\end{scope}
	\node [annot] (cutb) at (986,1521) {p=0.05\\cut-off};
	\node [annot] (obsb) at (1004,1694) {observed\\component\\(p=0.134)};
	\coordinate (cutbtail) at (979,1526); \coordinate (cutbtip) at (938,1499);
	\coordinate (obsbtail) at (995,1707); \coordinate (obsbtip) at (891,1679);
	\path[plotarr] (cutbtail) -- (cutbtip);
	\path[plotarr] (obsbtail) -- (obsbtip);

	\begin{scope}[shift={(1357,1809)}, x=0.01668cm, y=3.89cm]
		\draw[cut] (74,1.067) -- (74,-0.015);
		\draw[obs] (16.3,1.067) -- (16.3,-0.015);
		\draw[cut] (-4,0.971) -- (248,0.971);
		\draw[obs] (0,0.522) -- (250,0.522);
		\draw[curve] plot[smooth, tension=0.35] coordinates {(0,0.32) (7,0.32) (10,0.35) (13,0.42) (17,0.5) (20,0.55) (25,0.63) (30,0.7) (35,0.76) (40,0.8) (50,0.87) (60,0.91) (70,0.94) (80,0.96) (95,0.985) (110,0.995) (157,1)};
	\end{scope}
	\node [annot] (cutc) at (1536,1521) {p=0.05\\cut-off};
	\node [annot] (obsc) at (1509,1694) {observed\\component\\(p=0.489)};
	\coordinate (cutctail) at (1526,1531); \coordinate (cutctip) at (1485,1499);
	\coordinate (obsctail) at (1499,1706); \coordinate (obsctip) at (1397,1681);
	\path[plotarr] (cutctail) -- (cutctip);
	\path[plotarr] (obsctail) -- (obsctip);
\end{tikzpicture}
\end{document}
